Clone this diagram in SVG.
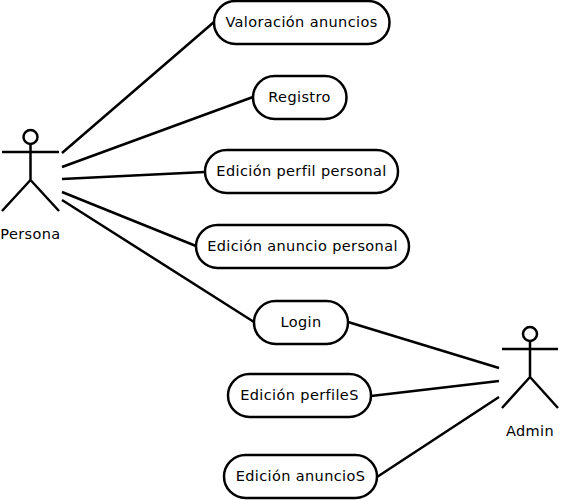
<svg xmlns="http://www.w3.org/2000/svg" width="562" height="500" viewBox="0 0 562 500">
<style>
.n{fill:#fff;stroke:#000;stroke-width:2.5}
.l{fill:none;stroke:#000;stroke-width:2.5}
text{font-family:"DejaVu Sans",sans-serif;font-size:14.5px;letter-spacing:.38px;fill:#000;text-anchor:middle}
</style>
<rect width="562" height="500" fill="#fff"/>
<g id="connectors">
<path class="l" d="M62 153L214 22M62 167L253 97M62 179L205 172M62 192L196 246M62 200L254 322M348 322L499 368M371 396L499 381M377 477L499 397"/>
</g>
<g id="persona"><circle class="n" cx="30.500" cy="137" r="7"/><path class="l" d="M30.500 144V180M2 152H59M30.500 180L2 211M30.500 180L59 211"/><text x="30.500" y="239">Persona</text></g>
<g id="admin"><circle class="n" cx="530" cy="334" r="7"/><path class="l" d="M530 341V377M502 349H558M530 377L502 408M530 377L558 408"/><text x="530" y="436">Admin</text></g>
<g id="u1"><rect class="n" x="214" y="1" width="175.500" height="43" rx="21.500"/><text x="301.500" y="27">Valoración anuncios</text></g>
<g id="u2"><rect class="n" x="253" y="76" width="93.500" height="43" rx="21.500"/><text x="299.500" y="102">Registro</text></g>
<g id="u3"><rect class="n" x="205" y="150" width="193" height="43" rx="21.500"/><text x="301.500" y="176">Edición perfil personal</text></g>
<g id="u4"><rect class="n" x="196" y="225" width="213" height="43" rx="21.500"/><text x="302.500" y="251">Edición anuncio personal</text></g>
<g id="u5"><rect class="n" x="254" y="301" width="94" height="43" rx="21.500"/><text x="301" y="327">Login</text></g>
<g id="u6"><rect class="n" x="228" y="374" width="143" height="43" rx="21.500"/><text x="299.500" y="400">Edición perfileS</text></g>
<g id="u7"><rect class="n" x="224" y="455" width="153" height="43" rx="21.500"/><text x="300.500" y="481">Edición anuncioS</text></g>
</svg>
